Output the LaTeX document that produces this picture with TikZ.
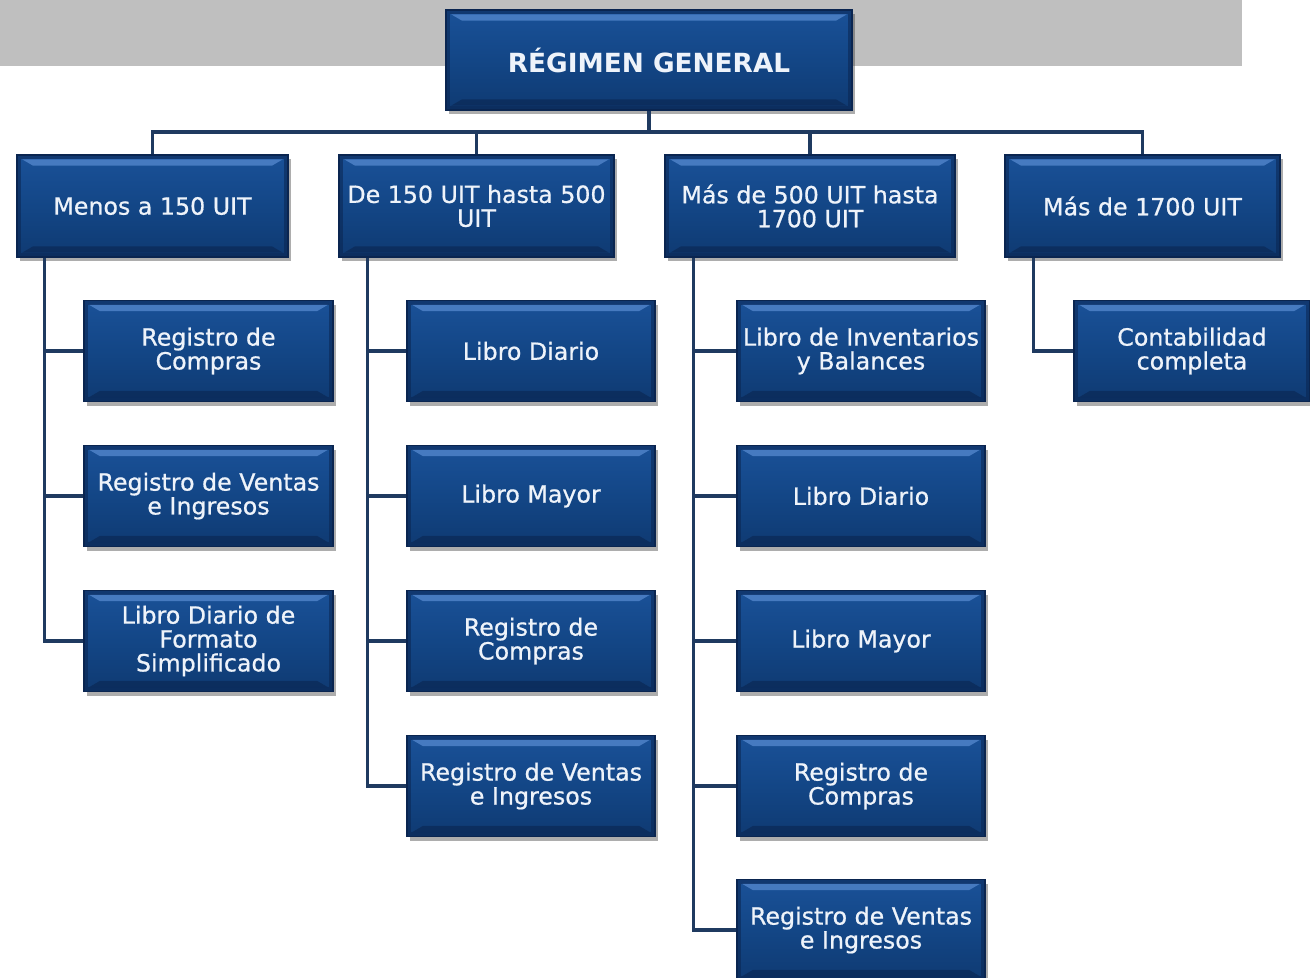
\documentclass[tikz,border=0pt]{standalone}
\usepackage{fontspec}
\setmainfont{DejaVu Sans}
\newfontfamily\boxfont{DejaVu Sans}[FakeBold=0.7]
\usetikzlibrary{shadows}
\definecolor{boxtop}{HTML}{1A5198}
\definecolor{boxmid}{HTML}{134686}
\definecolor{boxbot}{HTML}{0F3A72}
\definecolor{boxedge}{HTML}{0A2550}
\definecolor{hilite}{HTML}{4F82C8}
\definecolor{linkcol}{HTML}{1F3A60}
\definecolor{band}{HTML}{BFBFBF}
\definecolor{txt}{HTML}{EEF3FA}
\tikzset{
  orgbox/.style={rectangle, draw=boxedge, line width=0.8pt,
    top color=boxtop, bottom color=boxbot, middle color=boxmid,
    text=txt, align=center, inner sep=2pt,
    font=\boxfont\fontsize{13.5}{13.6}\selectfont,
    drop shadow={shadow xshift=1.5pt, shadow yshift=-2.5pt, opacity=0.4, fill=black!80},
    path picture={
      \draw[boxedge, opacity=0.55, line width=5pt]
        (path picture bounding box.south west) rectangle (path picture bounding box.north east);
      \fill[hilite, opacity=0.85]
        ([xshift=3pt,yshift=-2.5pt]path picture bounding box.north west) --
        ([xshift=-3pt,yshift=-2.5pt]path picture bounding box.north east) --
        ([xshift=-9pt,yshift=-6pt]path picture bounding box.north east) --
        ([xshift=9pt,yshift=-6pt]path picture bounding box.north west) -- cycle;
      \fill[boxedge, opacity=0.6]
        ([xshift=3pt,yshift=2.5pt]path picture bounding box.south west) --
        ([xshift=-3pt,yshift=2.5pt]path picture bounding box.south east) --
        ([xshift=-9pt,yshift=6pt]path picture bounding box.south east) --
        ([xshift=9pt,yshift=6pt]path picture bounding box.south west) -- cycle;
    }},
  lvl1/.style={orgbox, minimum height=2.04cm},
  leaf/.style={orgbox, minimum height=2.02cm},
  link/.style={draw=linkcol, line width=1.8pt}
}
\begin{document}
\begin{tikzpicture}[x=0.02cm, y=-0.02cm]
\clip (0,0) rectangle (1310,977);
\fill[white] (0,0) rectangle (1310,977);
\fill[band] (0,0) rectangle (1242,66);

% root
\node[orgbox, minimum width=8.12cm, minimum height=2.0cm, font=\fontsize{15}{17}\selectfont\bfseries] (root) at (649,60) {RÉGIMEN GENERAL};

% level 1
\node[lvl1, minimum width=5.42cm] (A) at (152.5,206) {Menos a 150 UIT};
\node[lvl1, minimum width=5.5cm]  (B) at (476.5,206) {De 150 UIT hasta 500\\UIT};
\node[lvl1, minimum width=5.8cm]  (C) at (810,206)   {Más de 500 UIT hasta\\1700 UIT};
\node[lvl1, minimum width=5.5cm]  (D) at (1142.5,206) {Más de 1700 UIT};

% children of A
\node[leaf, minimum width=4.98cm] (a1) at (208.5,351) {Registro de\\Compras};
\node[leaf, minimum width=4.98cm] (a2) at (208.5,496) {Registro de Ventas\\e Ingresos};
\node[leaf, minimum width=4.98cm] (a3) at (208.5,641) {Libro Diario de\\Formato\\Simplificado};

% children of B
\node[leaf, minimum width=4.96cm] (b1) at (531,351) {Libro Diario};
\node[leaf, minimum width=4.96cm] (b2) at (531,496) {Libro Mayor};
\node[leaf, minimum width=4.96cm] (b3) at (531,641) {Registro de\\Compras};
\node[leaf, minimum width=4.96cm] (b4) at (531,786) {Registro de Ventas\\e Ingresos};

% children of C
\node[leaf, minimum width=4.96cm] (c1) at (861,351) {Libro de Inventarios\\y Balances};
\node[leaf, minimum width=4.96cm] (c2) at (861,496) {Libro Diario};
\node[leaf, minimum width=4.96cm] (c3) at (861,641) {Libro Mayor};
\node[leaf, minimum width=4.96cm] (c4) at (861,786) {Registro de\\Compras};
\node[leaf, minimum width=4.96cm] (c5) at (861,930) {Registro de Ventas\\e Ingresos};

% child of D
\node[leaf, minimum width=4.72cm] (d1) at (1192,351) {Contabilidad\\completa};

% connectors root -> level 1
\coordinate (bus) at (649,132);
\draw[link] (root.south) -- (bus);
\draw[link] (bus) -| (A.north);
\draw[link] (bus) -| (B.north);
\draw[link] (bus) -| (C.north);
\draw[link] (bus) -| (D.north);

% connectors level 1 -> children
\coordinate (Ap) at ([xshift=0.56cm]A.south west);
\coordinate (Bp) at ([xshift=0.58cm]B.south west);
\coordinate (Cp) at ([xshift=0.58cm]C.south west);
\coordinate (Dp) at ([xshift=0.58cm]D.south west);
\foreach \k in {a1,a2,a3} \draw[link] (Ap) |- (\k.west);
\foreach \k in {b1,b2,b3,b4} \draw[link] (Bp) |- (\k.west);
\foreach \k in {c1,c2,c3,c4,c5} \draw[link] (Cp) |- (\k.west);
\draw[link] (Dp) |- (d1.west);
\end{tikzpicture}
\end{document}
